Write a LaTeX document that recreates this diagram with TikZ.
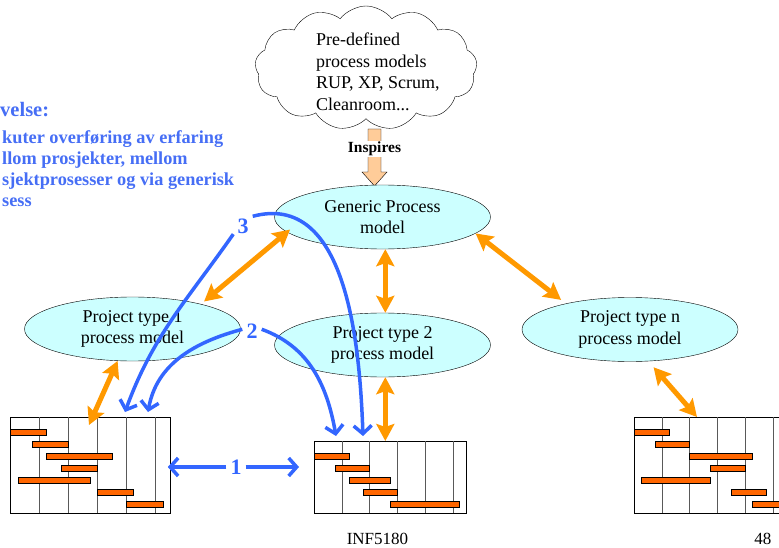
\documentclass[tikz,border=0pt]{standalone}
\usepackage{fontspec}
\setmainfont{Liberation Serif}
\usetikzlibrary{calc,positioning,shapes.geometric,shapes.symbols,arrows.meta}

\definecolor{modelcyan}{RGB}{204,255,255}
\definecolor{barorange}{RGB}{255,102,0}
\definecolor{linkorange}{RGB}{255,153,0}
\definecolor{peach}{RGB}{255,204,153}
\definecolor{flowblue}{RGB}{51,102,255}
\definecolor{taskblue}{RGB}{70,110,245}

\tikzset{
  model/.style={ellipse, draw, fill=modelcyan, minimum width=216pt, minimum height=64pt, inner sep=0pt, align=center, font=\fontsize{18}{21.5}\selectfont},
  ganttbox/.style={draw, thick, inner sep=0pt, anchor=north west, minimum width=160pt},
  ganttline/.style={draw=black!65, thick},
  ganttbar/.style={draw, fill=barorange, thick},
  biarrow/.style={draw=linkorange, line width=5pt, >={Stealth[length=17pt,width=18pt,inset=3pt]}, <->},
  flow/.style={draw=flowblue, line width=3.5pt, >={Straight Barb[length=8pt,width=18pt]}, ->},
  flownum/.style={text=flowblue, font=\fontsize{22}{24}\selectfont\bfseries, inner sep=4pt},
}

\begin{document}
\begin{tikzpicture}[x=1pt, y=1pt]
				\useasboundingbox (0,0) rectangle (779,-548);
				\clip (0,0) rectangle (779,-548);
				
				\node[anchor=base west, inner sep=0pt, text=taskblue, font=\fontsize{20.5}{24}\selectfont\bfseries] (task) at (0,-117) {velse:};
				\node[anchor=north west, inner sep=0pt, align=left, text=taskblue, font=\fontsize{18.3}{21}\selectfont\bfseries] (tasktext) at (2,-130) {kuter overføring av erfaring\\llom prosjekter, mellom\\sjektprosesser og via generisk\\sess};
				
				\node[cloud, draw, fill=white, cloud puffs=13, cloud puff arc=105, aspect=1.8, minimum width=222pt, minimum height=124pt] (cloud) at (366,-68) {};
				\node[anchor=north west, inner sep=0pt, align=left, font=\fontsize{18}{21.5}\selectfont] (cloudtext) at (316,-33) {Pre-defined\\process models\\RUP, XP, Scrum,\\Cleanroom...};
				
				\draw[fill=peach] (368,-129) -- (381,-129) -- (381,-172) -- (387,-172) -- (374.5,-186) -- (362,-172) -- (368,-172) -- cycle;
				\node[fill=white, inner sep=1pt, font=\fontsize{15.5}{18}\selectfont\bfseries] (inspires) at (374.5,-149) {Inspires};
				
				\node[model] (gen) at (382.5,-217) {Generic Process\\model};
				\node[model] (t1) at (132.5,-329) {Project type 1\\process model};
				\node[model] (t2) at (382.5,-345) {Project type 2\\process model};
				\node[model] (tn) at (630,-329.5) {Project type n\\process model};
				
				\node[ganttbox, minimum height=96pt] (g1) at (10,-417) {};
				\draw[ganttline] (39,-417) -- (39,-513);
				\draw[ganttline] (68,-417) -- (68,-513);
				\draw[ganttline] (97,-417) -- (97,-513);
				\draw[ganttline] (126,-417) -- (126,-513);
				\draw[ganttline] (155,-417) -- (155,-513);
				\draw[ganttbar] (10,-429) rectangle (46,-435);
				\draw[ganttbar] (32,-441) rectangle (68,-447);
				\draw[ganttbar] (46,-453) rectangle (112,-459);
				\draw[ganttbar] (61,-465) rectangle (97,-471);
				\draw[ganttbar] (18,-477) rectangle (90,-483);
				\draw[ganttbar] (97,-489) rectangle (133,-495);
				\draw[ganttbar] (126,-501) rectangle (163,-507);
				
				\node[ganttbox, minimum width=152pt, minimum height=72pt] (g2) at (314,-441) {};
				\draw[ganttline] (342,-441) -- (342,-513);
				\draw[ganttline] (369,-441) -- (369,-513);
				\draw[ganttline] (397,-441) -- (397,-513);
				\draw[ganttline] (425,-441) -- (425,-513);
				\draw[ganttline] (453,-441) -- (453,-513);
				\draw[ganttbar] (314,-453) rectangle (349,-459);
				\draw[ganttbar] (335,-465) rectangle (369,-471);
				\draw[ganttbar] (349,-477) rectangle (390,-483);
				\draw[ganttbar] (363,-489) rectangle (397,-495);
				\draw[ganttbar] (390,-501) rectangle (459,-507);
				
				\node[ganttbox, minimum height=96pt] (gn) at (634,-417) {};
				\draw[ganttline] (662,-417) -- (662,-513);
				\draw[ganttline] (689,-417) -- (689,-513);
				\draw[ganttline] (717,-417) -- (717,-513);
				\draw[ganttline] (745,-417) -- (745,-513);
				\draw[ganttline] (773,-417) -- (773,-513);
				\draw[ganttbar] (634,-429) rectangle (669,-435);
				\draw[ganttbar] (655,-441) rectangle (689,-447);
				\draw[ganttbar] (689,-453) rectangle (752,-459);
				\draw[ganttbar] (710,-465) rectangle (745,-471);
				\draw[ganttbar] (641,-477) rectangle (710,-483);
				\draw[ganttbar] (731,-489) rectangle (766,-495);
				\draw[ganttbar] (752,-501) rectangle (790,-507);
				
				\draw[biarrow, shorten <=-4pt, shorten >=4pt] (gen.189) -- (t1.20);
				\draw[biarrow] (gen.-85) -- (t2.85);
				\draw[biarrow, shorten >=6pt] (gen.-10) -- (tn.158);
				\draw[biarrow] (t1.-115) -- ($(g1.north west)+(79,-8)$);
				\draw[biarrow] (t2.-85) -- (t2.-85 |- g2.north);
				\draw[biarrow, shorten <=8pt] (tn.-60) -- ($(gn.north west)+(63,0)$);
				
				\node[flownum] (n3) at (243,-226) {3};
				\node[flownum] (n2) at (252,-331) {2};
				\node[flownum] (n1) at (236,-467) {1};
				
				\draw[flow] (n3.-140) to[out=-125, in=70] ($(g1.north west)+(115,5)$);
				\draw[flow] (n3.45) to[out=15, in=92] ($(g2.north west)+(49,5)$);
				\draw[flow] (n2.170) to[out=195, in=80] ($(g1.north west)+(138,5)$);
				\draw[flow] (n2.10) to[out=-20, in=100] ($(g2.north west)+(22,5)$);
				\draw[flow, shorten >=-3pt] (n1.west) -- (g1.east |- n1);
				\draw[flow, shorten >=15pt] (n1.east) -- (g2.west |- n1);
				
				\node[anchor=base, font=\fontsize{17}{20}\selectfont] (course) at (377.5,-544) {INF5180};
				\node[anchor=base east, font=\fontsize{17}{20}\selectfont] (page) at (775,-544) {48};
			\end{tikzpicture}
\end{document}
